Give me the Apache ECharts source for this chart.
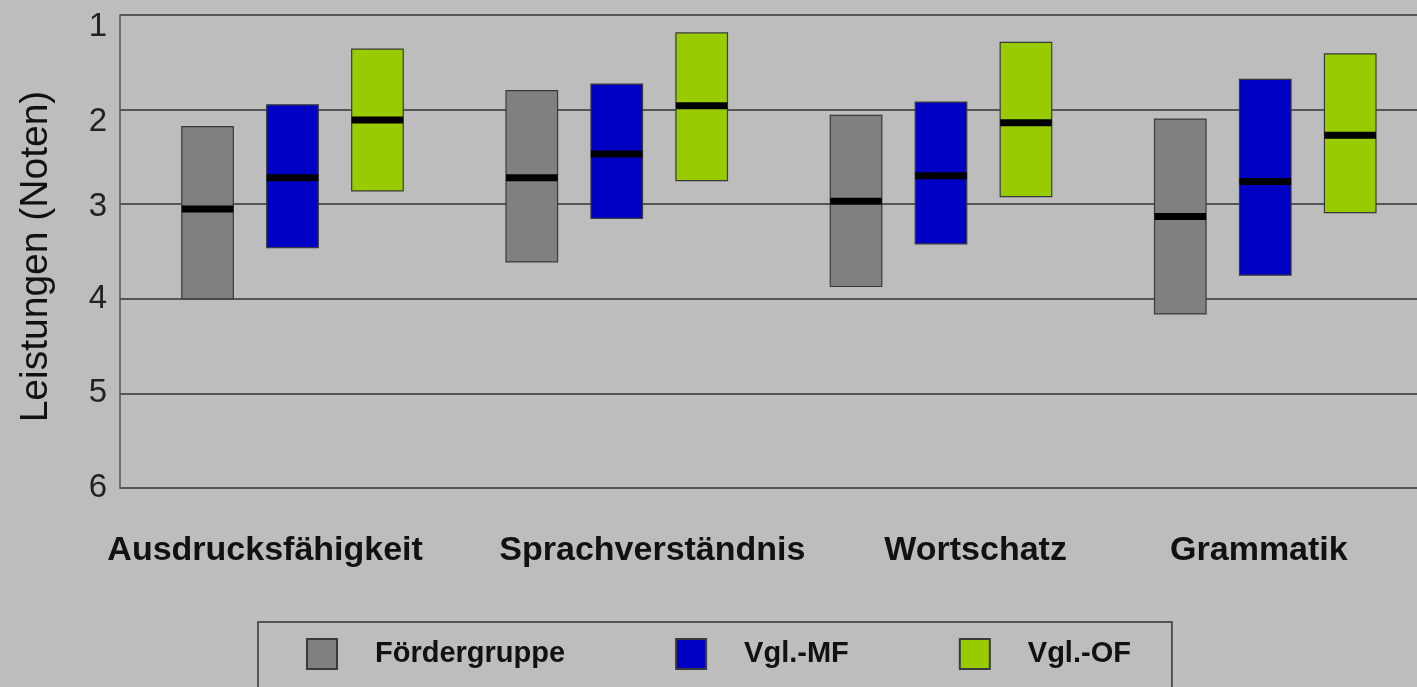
<!DOCTYPE html>
<html>
<head>
<meta charset="utf-8">
<title>Leistungen (Noten)</title>
<script src="https://cdn.jsdelivr.net/npm/echarts@6/dist/echarts.min.js"></script>
<style type="text/css">
    html, body { margin: 0; padding: 0; background: #bdbdbd; }
    #chart { width: 1417px; height: 687px; }
</style>
</head>
<body>
<div id="chart"></div>
<script type="text/javascript">
// Kategorien und Werte (Noten, 1 = beste)
var categories = ['Ausdrucksfähigkeit', 'Sprachverständnis', 'Wortschatz', 'Grammatik'];
var seriesNames = ['Fördergruppe', 'Vgl.-MF', 'Vgl.-OF'];
var yTicks = [1, 2, 3, 4, 5, 6];

// obere Kante, untere Kante, Mittellinie je Gruppe
var foerderTop    = [2.18, 1.80, 2.06, 2.10];
var foerderBottom = [4.00, 3.61, 3.87, 4.16];
var foerderMedian = [3.05, 2.72, 2.97, 3.13];

var mfTop    = [1.95, 1.73, 1.92, 1.68];
var mfBottom = [3.46, 3.15, 3.42, 3.75];
var mfMedian = [2.72, 2.47, 2.70, 2.76];

var ofTop    = [1.36, 1.19, 1.29, 1.41];
var ofBottom = [2.86, 2.75, 2.92, 3.09];
var ofMedian = [2.11, 1.96, 2.14, 2.27];

var colors = ['#808080', '#0000c4', '#99cc00'];

// Beschriftungen stehen im Original nicht genau mittig
var labelStyle = ['c0', 'c1', 'c2', 'c3'];

function buildData(top, bottom, median) {
    return categories.map(function (c, i) {
        return [i, top[i], bottom[i], median[i]];
    });
}

var chart = echarts.init(document.getElementById('chart'));

// Kasten mit dicker Mittellinie
function renderBox(params, api) {
    var ci = api.value(0);
    var pTop = api.coord([ci, api.value(1)]);
    var pBot = api.coord([ci, api.value(2)]);
    var pMed = api.coord([ci, api.value(3)]);
    var band = api.size([1, 0])[0];
    var w = band * 0.159;
    var cx = pTop[0] + band * 0.032 + (params.seriesIndex - 1) * band * 0.262;
    var x0 = cx - w / 2;
    return {
        type: 'group',
        children: [{
            type: 'rect',
            shape: { x: x0, y: pTop[1], width: w, height: pBot[1] - pTop[1] },
            style: { fill: colors[params.seriesIndex], stroke: '#3a3a3a', lineWidth: 1.2 }
        }, {
            type: 'rect',
            shape: { x: x0, y: pMed[1] - 3.5, width: w, height: 7 },
            style: { fill: '#000' }
        }]
    };
}

var allData = [
    buildData(foerderTop, foerderBottom, foerderMedian),
    buildData(mfTop, mfBottom, mfMedian),
    buildData(ofTop, ofBottom, ofMedian)
];

var xRich = {
    c0: { fontSize: 34, fontWeight: 'bold', color: '#111', padding: [0, 34, 0, 0] },
    c1: { fontSize: 34, fontWeight: 'bold', color: '#111', padding: [0, 0, 0, 92] },
    c2: { fontSize: 34, fontWeight: 'bold', color: '#111', padding: [0, 0, 0, 90] },
    c3: { fontSize: 34, fontWeight: 'bold', color: '#111', padding: [0, 0, 0, 8] }
};

var option = {
    backgroundColor: '#bdbdbd',
    animation: false,
    textStyle: { fontFamily: 'Arial, "Liberation Sans", sans-serif' },
    grid: { left: 120, top: 15, right: -16, bottom: 199, containLabel: false },
    legend: {
        data: seriesNames,
        left: 258,
        top: 622,
        padding: [16, 41, 40, 48],
        borderColor: '#333',
        borderWidth: 1.5,
        borderRadius: 0,
        icon: 'rect',
        itemWidth: 30,
        itemHeight: 30,
        itemGap: 110,
        textStyle: { fontSize: 29, fontWeight: 'bold', color: '#111', padding: [0, 0, 0, 33] }
    },
    xAxis: {
        type: 'category',
        data: categories,
        axisLine: { onZero: false, lineStyle: { color: '#555', width: 1.5 } },
        axisTick: { show: false },
        axisLabel: {
            interval: 0,
            fontSize: 34,
            fontWeight: 'bold',
            color: '#111',
            margin: 46,
            formatter: function (v, i) {
                return '{' + labelStyle[i] + '|' + v + '}';
            },
            rich: xRich
        },
        splitLine: { show: false }
    },
    yAxis: {
        type: 'value',
        inverse: true,
        min: yTicks[0],
        max: yTicks[yTicks.length - 1],
        interval: 1,
        name: 'Leistungen (Noten)',
        nameLocation: 'middle',
        nameRotate: 90,
        nameGap: 64,
        nameTextStyle: { fontSize: 39, color: '#111', padding: [0, 10, 0, 0] },
        axisLine: { show: true, lineStyle: { color: '#555', width: 1.5 } },
        axisTick: { show: false },
        axisLabel: {
            fontSize: 33,
            color: '#222',
            margin: 13,
            formatter: function (v) {
                if (v <= 2) return '{lo|' + v + '}';
                if (v === 3) return '{mid|' + v + '}';
                return '' + v;
            },
            rich: {
                lo: { fontSize: 33, color: '#222', padding: [24, 0, 0, 0] },
                mid: { fontSize: 33, color: '#222', padding: [6, 0, 0, 0] }
            }
        },
        splitLine: { show: true, lineStyle: { color: '#333', width: 1.5 } }
    },
    series: seriesNames.map(function (name, i) {
        return {
            name: name,
            type: 'custom',
            itemStyle: { color: colors[i], borderColor: '#3a3a3a', borderWidth: 1.2 },
            encode: { x: 0, y: [1, 2, 3] },
            renderItem: renderBox,
            data: allData[i]
        };
    })
};

chart.setOption(option);
</script>
</body>
</html>
